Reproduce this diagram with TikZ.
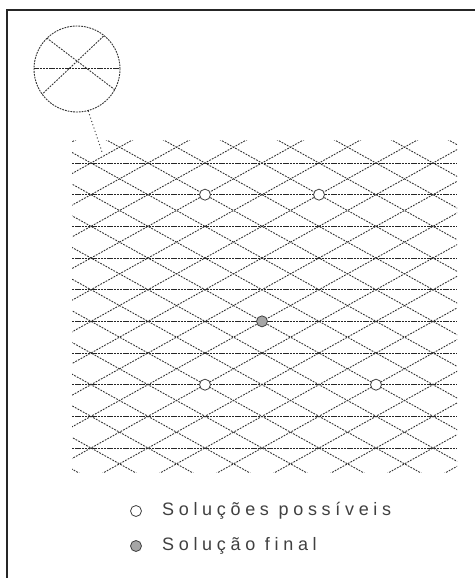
\documentclass[tikz,border=0pt]{standalone}
\usepackage{fontspec}
\setmainfont{Liberation Sans}
\begin{document}
\begin{tikzpicture}[x=1pt,y=-1pt,
  gridline/.style={draw=black!85, line width=1.0pt, dash pattern=on 2.4pt off 0.8pt},
  diagline/.style={draw=black!80, line width=0.9pt, dash pattern=on 1.8pt off 1.2pt},
  sol/.style={circle, draw=black!75, fill=white, line width=0.8pt, inner sep=0pt, minimum size=11pt},
  final/.style={sol, fill=black!35},
  legend/.style={anchor=west, font=\fontsize{18}{20}\selectfont\addfontfeature{LetterSpace=26}, text=black!75, inner sep=0pt}]
\useasboundingbox (0,0) rectangle (475,578);
% frame
\draw[line width=1.3pt, black!85] (7,578) -- (7,10) -- (475,10);
% horizontal lines
\foreach \k in {0,...,9}
  \draw[gridline] (72,{163+31.67*\k}) -- (457,{163+31.67*\k});
% diagonals
\begin{scope}
  \clip (72,140) rectangle (457,472);
  \foreach \k in {-15,...,15} {
    \draw[diagline] ({148+57*\k+(100-194.67)*1.8},100) -- ({148+57*\k+(520-194.67)*1.8},520);
    \draw[diagline] ({148+57*\k-(100-194.67)*1.8},100) -- ({148+57*\k-(520-194.67)*1.8},520);
  }
\end{scope}
% magnifier
\node[circle, draw=black!80, line width=0.9pt, dash pattern=on 1.8pt off 1.0pt, minimum size=86pt, inner sep=0pt] (mag) at (77,69) {};
\begin{scope}
  \clip (77,69) circle [radius=43pt];
  \draw[gridline] (30,69) -- (125,69);
  \draw[diagline] (110,30) -- (35,101);
  \draw[diagline] (30,25.3) -- (125,97.5);
\end{scope}
\coordinate (gridpt) at (102,152);
\draw[black!75, line width=1pt, dash pattern=on 1pt off 2.5pt] (mag.-75) -- (gridpt);
% solution markers
\node[sol] (s1) at (205,194.67) {};
\node[sol] (s2) at (319,194.67) {};
\node[final] (s3) at (262,321.35) {};
\node[sol] (s4) at (205,384.69) {};
\node[sol] (s5) at (376,384.69) {};
% legend
\node[sol] (lp) at (136,511) {};
\node[legend] (tp) at (162,511) {Soluções possíveis};
\node[final] (lf) at (136,546) {};
\node[legend] (tf) at (162,546) {Solução final};
\end{tikzpicture}
\end{document}
